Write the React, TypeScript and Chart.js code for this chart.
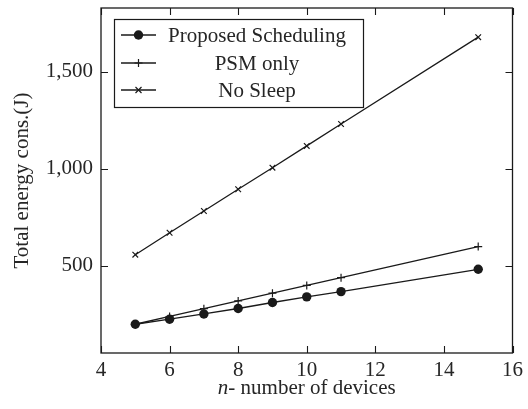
import React, { useEffect, useRef } from 'react';
import { Chart, registerables } from 'chart.js';
Chart.register(...registerables);

const nDevices = [5, 6, 7, 8, 9, 10, 11, 15];
const proposed = [200, 226, 253, 281, 312, 341, 368, 483];
const psmOnly = [200, 240, 280, 320, 360, 400, 440, 600];
const noSleep = [558, 671, 783, 895, 1006, 1118, 1231, 1678];
const xTicks = [4, 6, 8, 10, 12, 14, 16];
const yTicks = [500, 1000, 1500];
const seriesLabels = ['Proposed Scheduling', 'PSM only', 'No Sleep'];
const seriesMarkers = ['circle', 'cross', 'crossRot'];
const xTitleItalic = 'n';
const xTitleRest = '- number of devices';
const yTitle = 'Total energy cons.(J)';

const FONT = "'Liberation Serif'";
const FS = 21;
const TEXT = '#262626';
const INK = '#1a1a1a';

function drawMarker(ctx: CanvasRenderingContext2D, style: string, x: number, y: number) {
  ctx.save();
  ctx.strokeStyle = INK;
  ctx.fillStyle = INK;
  ctx.lineWidth = 1.2;
  if (style === 'circle') {
    ctx.beginPath();
    ctx.arc(x, y, 4.7, 0, Math.PI * 2);
    ctx.fill();
  } else if (style === 'cross') {
    ctx.beginPath();
    ctx.moveTo(x - 4, y); ctx.lineTo(x + 4, y);
    ctx.moveTo(x, y - 4); ctx.lineTo(x, y + 4);
    ctx.stroke();
  } else {
    const d = 3;
    ctx.beginPath();
    ctx.moveTo(x - d, y - d); ctx.lineTo(x + d, y + d);
    ctx.moveTo(x - d, y + d); ctx.lineTo(x + d, y - d);
    ctx.stroke();
  }
  ctx.restore();
}

const framePlugin = {
  id: 'frameTicks',
  afterDatasetsDraw(chart: any) {
    const { ctx, chartArea: ca, scales } = chart;
    const xs = scales.x, ys = scales.y;
    const tl = 7;
    ctx.save();
    ctx.strokeStyle = INK;
    ctx.lineWidth = 1.1;
    ctx.beginPath();
    for (const t of xs.ticks) {
      const px = Math.round(xs.getPixelForValue(t.value)) + 0.5;
      ctx.moveTo(px, ca.bottom); ctx.lineTo(px, ca.bottom - tl);
      ctx.moveTo(px, ca.top); ctx.lineTo(px, ca.top + tl);
    }
    for (const t of ys.ticks) {
      const py = Math.round(ys.getPixelForValue(t.value)) + 0.5;
      ctx.moveTo(ca.left, py); ctx.lineTo(ca.left + tl, py);
      ctx.moveTo(ca.right, py); ctx.lineTo(ca.right - tl, py);
    }
    ctx.stroke();
    ctx.lineWidth = 1.3;
    ctx.strokeRect(ca.left, ca.top, ca.right - ca.left, ca.bottom - ca.top);
    ctx.restore();
  },
  afterDraw(chart: any) {
    const { ctx, chartArea: ca } = chart;
    ctx.save();
    ctx.fillStyle = TEXT;
    ctx.textBaseline = 'middle';
    ctx.font = `italic ${FS}px ${FONT}`;
    const w1 = ctx.measureText(xTitleItalic).width;
    ctx.font = `${FS}px ${FONT}`;
    const w2 = ctx.measureText(xTitleRest).width;
    const cx = (ca.left + ca.right) / 2;
    const startX = cx - (w1 + w2) / 2;
    const ty = 388;
    ctx.textAlign = 'left';
    ctx.font = `italic ${FS}px ${FONT}`;
    ctx.fillText(xTitleItalic, startX, ty);
    ctx.font = `${FS}px ${FONT}`;
    ctx.fillText(xTitleRest, startX + w1, ty);

    const bx = ca.left + 13, by = ca.top + 11, bw = 249, bh = 88;
    ctx.fillStyle = '#fff';
    ctx.fillRect(bx, by, bw, bh);
    ctx.strokeStyle = INK;
    ctx.lineWidth = 1.2;
    ctx.strokeRect(bx + 0.5, by + 0.5, bw, bh);
    const rows = [27, 55, 82];
    chart.data.datasets.forEach((ds: any, i: number) => {
      const ry = ca.top + rows[i];
      ctx.strokeStyle = INK;
      ctx.lineWidth = 1.3;
      ctx.beginPath();
      ctx.moveTo(bx + 7, ry); ctx.lineTo(bx + 42, ry);
      ctx.stroke();
      drawMarker(ctx, ds.pointStyle, bx + 24.5, ry);
      ctx.fillStyle = TEXT;
      ctx.font = `${FS}px ${FONT}`;
      ctx.textAlign = 'center';
      ctx.textBaseline = 'middle';
      ctx.fillText(ds.label, bx + 143, ry + 1);
    });
    ctx.restore();
  },
};

export default function App() {
  const ref = useRef<HTMLCanvasElement>(null);
  useEffect(() => {
    if (!ref.current) return;
    const mk = (data: number[], i: number) => ({
      label: seriesLabels[i],
      data: nDevices.map((x, k) => ({ x, y: data[k] })),
      borderColor: INK,
      backgroundColor: INK,
      borderWidth: 1.3,
      pointStyle: seriesMarkers[i],
      pointRadius: i === 0 ? 4.7 : 4,
      pointBorderWidth: i === 0 ? 0 : 1.2,
      pointBorderColor: INK,
      pointBackgroundColor: INK,
      tension: 0,
    });
    const chart = new Chart(ref.current, {
      type: 'line',
      data: { datasets: [mk(proposed, 0), mk(psmOnly, 1), mk(noSleep, 2)] },
      plugins: [framePlugin],
      options: {
        animation: false,
        responsive: true,
        maintainAspectRatio: false,
        layout: { padding: { top: 8, right: 15, left: 0, bottom: 0 } },
        plugins: { legend: { display: false }, tooltip: { enabled: false } },
        scales: {
          x: {
            type: 'linear',
            min: 4,
            max: 16,
            afterBuildTicks: (s: any) => { s.ticks = xTicks.map((v) => ({ value: v })); },
            afterFit: (s: any) => { s.height = 56; },
            grid: { display: false, drawTicks: false },
            border: { display: false },
            ticks: { padding: 5, color: TEXT, font: { family: FONT, size: FS }, maxRotation: 0 },
          },
          y: {
            type: 'linear',
            min: 52,
            max: 1828,
            afterBuildTicks: (s: any) => { s.ticks = yTicks.map((v) => ({ value: v })); },
            afterFit: (s: any) => { s.width = 101; s.paddingTop = 0; s.paddingBottom = 0; },
            grid: { display: false, drawTicks: false },
            border: { display: false },
            ticks: {
              padding: 8,
              color: TEXT,
              font: { family: FONT, size: FS },
              callback: (v: any) => Number(v).toLocaleString('en-US'),
            },
            title: {
              display: true,
              text: yTitle,
              color: TEXT,
              font: { family: FONT, size: FS },
              padding: { top: 10, bottom: 0 },
            },
          },
        },
      } as any,
    });
    return () => chart.destroy();
  }, []);
  return (
    <div style={{ position: 'fixed', left: 0, top: 0, width: 528, height: 409, background: '#fff' }}>
      <canvas ref={ref} />
    </div>
  );
}
